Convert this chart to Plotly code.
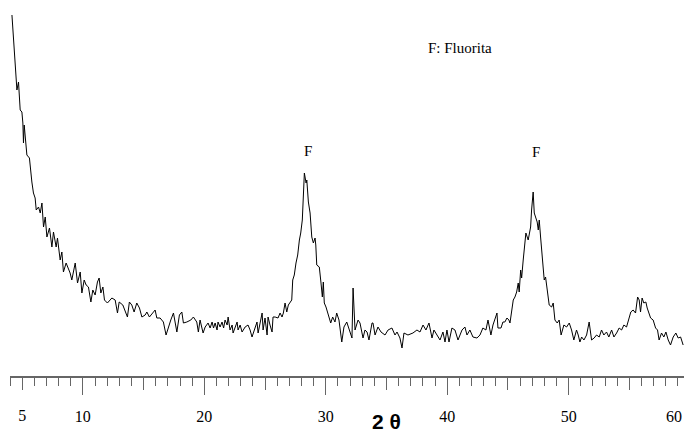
import plotly.graph_objects as go

two_theta = [
    4.16, 4.29, 4.37, 4.51, 4.57, 4.70, 4.84, 4.98, 5.06, 5.11, 5.17, 5.39, 5.60, 5.80, 5.93, 6.07,
    6.16, 6.35, 6.49, 6.63, 6.76, 6.90, 7.04, 7.25, 7.45, 7.58, 7.80, 7.91, 8.13, 8.27, 8.40, 8.62,
    8.81, 8.95, 9.09, 9.37, 9.56, 9.78, 9.92, 10.11, 10.27, 10.46, 10.66, 10.82, 11.01, 11.20, 11.34,
    11.48, 11.65, 11.78, 12.02, 12.39, 12.66, 12.85, 12.99, 13.29, 13.67, 13.83, 14.03, 14.22, 14.44,
    14.66, 14.86, 15.13, 15.27, 15.48, 15.95, 16.09, 16.36, 16.63, 16.85, 17.04, 17.24, 17.46, 17.74,
    17.95, 18.15, 18.28, 18.56, 18.89, 19.10, 19.38, 19.51, 19.65, 19.90, 20.07, 20.31, 20.48, 20.64,
    20.76, 20.89, 21.05, 21.13, 21.30, 21.46, 21.59, 21.71, 21.88, 21.96, 22.12, 22.29, 22.37, 22.70,
    22.78, 22.95, 23.11, 23.36, 23.60, 23.77, 23.93, 24.18, 24.34, 24.43, 24.59, 24.76, 24.84, 25.00,
    25.17, 25.25, 25.41, 25.58, 25.66, 25.83, 26.07, 26.24, 26.40, 26.51, 26.65, 26.79, 26.92, 27.06,
    27.20, 27.28, 27.41, 27.55, 27.69, 27.83, 27.94, 28.07, 28.16, 28.24, 28.38, 28.44, 28.57, 28.71,
    28.85, 28.98, 29.12, 29.18, 29.26, 29.47, 29.61, 29.72, 29.80, 29.88, 30.02, 30.21, 30.41, 30.57,
    30.76, 30.90, 31.09, 31.32, 31.50, 31.73, 31.94, 32.16, 32.25, 32.41, 32.66, 32.82, 33.07, 33.23,
    33.40, 33.56, 33.81, 33.89, 34.06, 34.30, 34.55, 34.88, 35.13, 35.45, 35.70, 35.87, 36.11, 36.28,
    36.44, 36.77, 37.18, 37.51, 37.76, 38.01, 38.25, 38.50, 38.75, 38.91, 39.16, 39.41, 39.65, 39.82,
    39.98, 40.15, 40.39, 40.64, 40.89, 41.22, 41.46, 41.63, 41.87, 42.12, 42.45, 42.70, 42.94, 43.19,
    43.36, 43.60, 43.77, 44.10, 44.18, 44.43, 44.59, 44.75, 44.92, 45.08, 45.17, 45.31, 45.44, 45.58,
    45.72, 45.85, 45.93, 46.05, 46.13, 46.26, 46.40, 46.48, 46.67, 46.87, 46.95, 47.08, 47.17, 47.31,
    47.41, 47.50, 47.58, 47.69, 47.82, 47.91, 47.99, 48.10, 48.24, 48.40, 48.60, 48.73, 48.87, 49.06,
    49.22, 49.38, 49.61, 49.83, 50.05, 50.24, 50.43, 50.65, 50.79, 50.93, 51.07, 51.26, 51.48, 51.69,
    51.89, 52.10, 52.30, 52.52, 52.71, 52.90, 53.12, 53.31, 53.54, 53.73, 53.95, 54.16, 54.36, 54.55,
    54.77, 54.96, 55.12, 55.31, 55.51, 55.68, 55.81, 55.92, 56.05, 56.19, 56.36, 56.47, 56.63, 56.75,
    56.96, 57.16, 57.32, 57.45, 57.65, 57.84, 58.01, 58.20, 58.39, 58.61, 58.83, 59.02, 59.22, 59.43,
]

intensity = [
    361, 333, 326, 296, 286, 294, 266, 264, 253, 233, 251, 221, 218, 194, 183, 178,
    166, 169, 163, 173, 149, 159, 139, 148, 129, 144, 129, 138, 116, 124, 104, 113,
    108, 103, 96, 113, 93, 104, 83, 96, 91, 89, 74, 86, 81, 94, 98,
    83, 89, 76, 73, 78, 76, 63, 74, 71, 59, 74, 71, 64, 73,
    68, 59, 61, 64, 59, 66, 58, 58, 54, 41, 49, 56, 63, 44,
    61, 64, 53, 54, 56, 59, 54, 44, 56, 43, 49, 53, 48, 54,
    48, 53, 46, 54, 49, 54, 48, 56, 51, 59, 46, 51, 43, 54,
    46, 51, 44, 49, 51, 46, 39, 49, 54, 43, 53, 63, 46, 58,
    41, 59, 51, 44, 59, 59, 58, 63, 59, 63, 73, 64, 71, 73,
    76, 96, 101, 113, 121, 136, 143, 156, 189, 203, 193, 196, 174, 163,
    139, 133, 138, 131, 111, 109, 93, 79, 94, 73, 69, 61, 53, 59,
    54, 63, 56, 34, 49, 54, 46, 38, 88, 46, 56, 53, 38, 46,
    44, 36, 53, 53, 41, 49, 44, 41, 46, 48, 41, 44, 38, 28,
    43, 41, 43, 46, 44, 51, 46, 53, 38, 46, 41, 36, 44, 34,
    46, 34, 48, 46, 36, 46, 49, 41, 46, 39, 38, 41, 48, 46,
    56, 41, 51, 63, 48, 48, 54, 54, 58, 56, 53, 66, 76, 79,
    84, 93, 84, 106, 98, 116, 133, 143, 136, 149, 166, 184, 163, 158,
    154, 146, 156, 139, 119, 103, 96, 99, 88, 71, 69, 73, 56, 53,
    56, 41, 51, 49, 53, 46, 36, 46, 41, 34, 39, 36, 41, 54,
    36, 38, 41, 39, 46, 41, 44, 39, 46, 39, 43, 48, 46, 51,
    49, 58, 64, 66, 63, 79, 76, 64, 78, 73, 74, 68, 63, 58,
    56, 48, 46, 36, 43, 39, 44, 36, 31, 39, 43, 38, 39, 31,
]

major_ticks = [10, 20, 30, 40, 50]
major_labels = ["10", "20", "30", "40", "50"]
mid_ticks = [5, 15, 25, 35, 45, 55]
mid_labels = ["5", "", "", "", "", ""]
peak_labels = [(28.5, 225, "F"), (47.3, 224, "F")]

serif = "Liberation Serif"
axis_col = "#666666"
standoff = 8

fig = go.Figure()
fig.add_trace(go.Scatter(x=two_theta, y=intensity, mode="lines",
                         line=dict(color="black", width=1), showlegend=False,
                         hoverinfo="skip"))
fig.add_trace(go.Scatter(x=two_theta, y=intensity, mode="lines", xaxis="x2",
                         line=dict(color="rgba(0,0,0,0)", width=0), showlegend=False,
                         hoverinfo="skip"))

for x, y, t in peak_labels:
    fig.add_annotation(x=x, y=y, text=t, showarrow=False,
                       font=dict(family=serif, size=15, color="black"))

fig.add_annotation(x=41.05, y=328, text="F: Fluorita", showarrow=False,
                   font=dict(family=serif, size=15, color="black"))
fig.add_annotation(xref="paper", yref="paper", x=1.0, y=0, xanchor="right", yanchor="top",
                   yshift=-30, text="60", showarrow=False,
                   font=dict(family=serif, size=16, color="black"))
fig.add_annotation(xref="paper", yref="paper", x=0.559, y=0, yanchor="top", yshift=-32,
                   text="<b>2 θ</b>", showarrow=False,
                   font=dict(family="Liberation Sans Narrow, Liberation Sans",
                             size=21, color="black"))

fig.update_layout(
    width=684, height=434,
    margin=dict(l=10, r=0, t=0, b=58),
    paper_bgcolor="white", plot_bgcolor="white",
    xaxis=dict(range=[4.0, 59.5], tickvals=major_ticks, ticktext=major_labels,
               ticks="outside", ticklen=17, tickwidth=1, tickcolor=axis_col,
               showline=True, linecolor=axis_col, linewidth=2,
               showgrid=False, zeroline=False, ticklabelstandoff=standoff,
               tickfont=dict(family=serif, size=16, color="black"),
               minor=dict(dtick=1, tick0=0, ticks="outside", ticklen=8,
                          tickwidth=1, tickcolor=axis_col, showgrid=False)),
    xaxis2=dict(range=[4.0, 59.5], overlaying="x", side="bottom", anchor="y",
                tickvals=mid_ticks, ticktext=mid_labels,
                ticks="outside", ticklen=13, tickwidth=1, tickcolor=axis_col,
                showline=False, showgrid=False, zeroline=False,
                ticklabelstandoff=standoff + 4,
                tickfont=dict(family=serif, size=16, color="black")),
    yaxis=dict(range=[0, 376], visible=False, showgrid=False, zeroline=False),
)

fig.write_html("out.html", config={"displayModeBar": False, "staticPlot": True},
               post_script="document.body.style.margin='0px';")
